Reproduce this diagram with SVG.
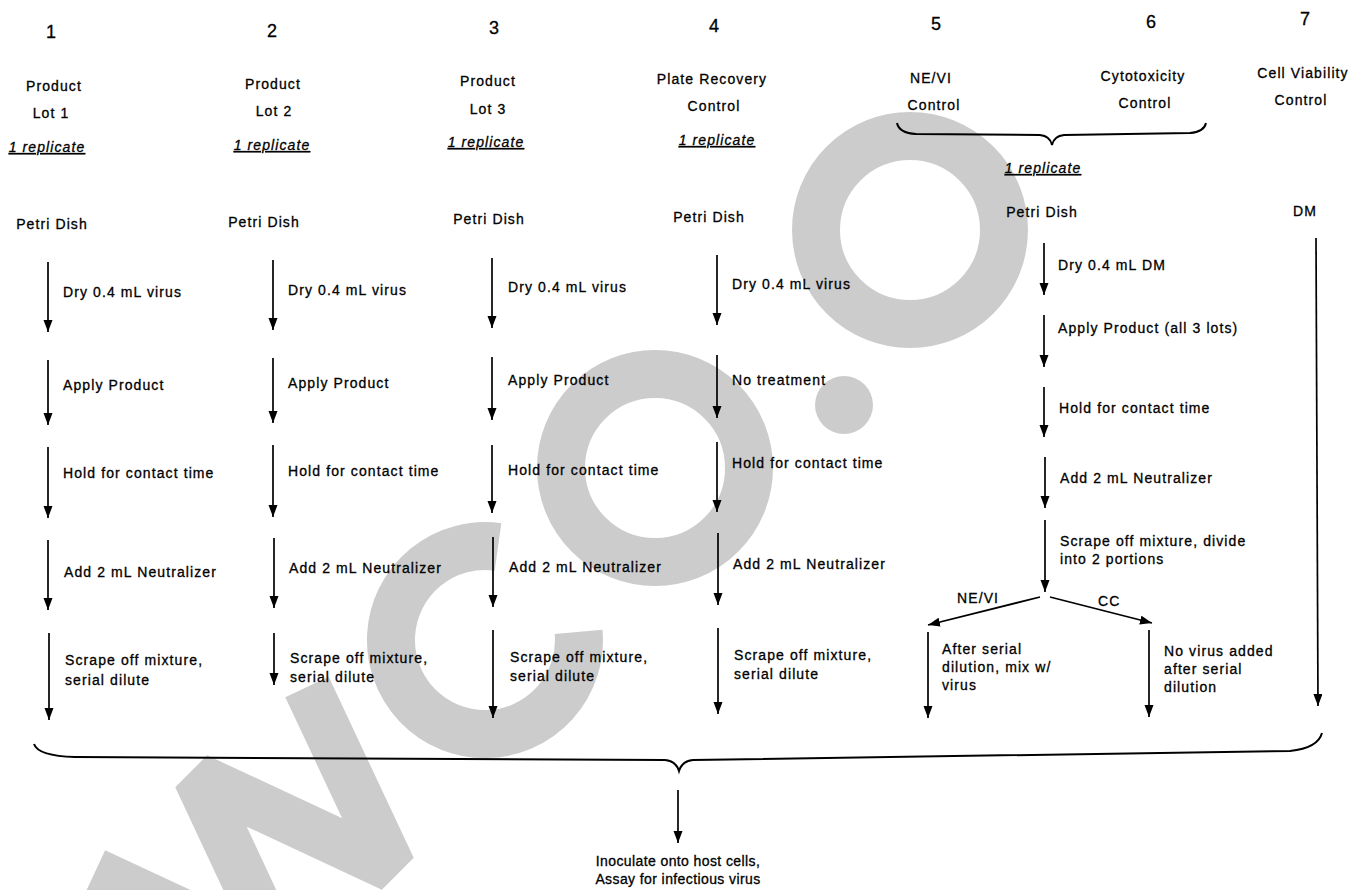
<svg xmlns="http://www.w3.org/2000/svg" width="1364" height="890" viewBox="0 0 1364 890">
<defs>
<marker id="ah" markerUnits="userSpaceOnUse" markerWidth="12" markerHeight="10" refX="12" refY="4.5" orient="auto">
<path d="M0,0 L12,4.5 L0,9 z" fill="#000"/>
</marker>
<style>
.t{font-family:"Liberation Sans",Arial,sans-serif;font-size:14px;letter-spacing:1.1px;fill:#000;stroke:#000;stroke-width:0.3px}
.m{text-anchor:middle}
.n{font-size:18px;letter-spacing:0}
.r{font-style:italic;text-decoration:underline}
.b{letter-spacing:0.4px;font-size:14px}
.c{stroke:#000;stroke-width:1.7;fill:none;marker-end:url(#ah)}
.br{stroke:#000;stroke-width:2;fill:none}
.wm{fill:none;stroke:#cccccc;stroke-width:48}
</style>
</defs>
<rect width="1364" height="890" fill="#fff"/>
<g id="watermark">
<polyline class="wm" points="95,872 282,959 197,777 392,868 307,687" stroke-linejoin="bevel"/>
<path class="wm" d="M578.6,631.8 A94,94 0 1 1 498,547"/>
<circle class="wm" cx="655" cy="468" r="94"/>
<circle cx="844" cy="405" r="29" fill="#cccccc"/>
<circle class="wm" cx="910" cy="230" r="94"/>
</g>
<g id="connectors">
<path class="c" d="M48,262 V332"/><path class="c" d="M48,360 V425"/><path class="c" d="M48,447 V518"/><path class="c" d="M48,540 V610"/><path class="c" d="M49,633 V720"/>
<path class="c" d="M273,260 V330"/><path class="c" d="M273,358 V423"/><path class="c" d="M273,445 V517"/><path class="c" d="M274,538 V608"/><path class="c" d="M274,633 V685"/>
<path class="c" d="M492,258 V328"/><path class="c" d="M492,357 V420"/><path class="c" d="M492,445 V513"/><path class="c" d="M493,537 V607"/><path class="c" d="M493,630 V718"/>
<path class="c" d="M717,255 V325"/><path class="c" d="M717,355 V418"/><path class="c" d="M717,442 V512"/><path class="c" d="M718,533 V605"/><path class="c" d="M718,628 V714"/>
<path class="c" d="M1044,243 V295"/><path class="c" d="M1044,315 V367"/><path class="c" d="M1044,387 V437"/><path class="c" d="M1045,457 V508"/><path class="c" d="M1045,520 V592"/>
<path class="c" d="M1040,597 L928,625"/><path class="c" d="M1050,597 L1152,623"/>
<path class="c" d="M928,632 V718"/><path class="c" d="M1149,630 V717"/>
<path class="c" d="M1316,238 L1318,706"/>
<path class="c" d="M678,790 V843"/>
<path class="br" d="M897,123 Q899,133 916,134 L1040,135 Q1050,136 1052,145 Q1054,136 1064,135 L1190,133 Q1204,132 1206,123"/>
<path class="br" d="M34,744 Q38,756 75,757 L665,760 Q676,761 679,771 Q682,761 693,760 L1290,751 Q1318,748 1322,733"/>
</g>
<g id="col1">
<text class="t n m" x="51" y="38">1</text>
<text class="t m" x="54" y="91">Product</text>
<text class="t m" x="51" y="118">Lot 1</text>
<text class="t m r" x="47" y="152">1 replicate</text>
<text class="t m" x="52" y="229">Petri Dish</text>
<text class="t" x="63" y="297">Dry 0.4 mL virus</text>
<text class="t" x="63" y="390">Apply Product</text>
<text class="t" x="63" y="478">Hold for contact time</text>
<text class="t" x="64" y="577">Add 2 mL Neutralizer</text>
<text class="t" x="65" y="665">Scrape off mixture,</text>
<text class="t" x="65" y="685">serial dilute</text>
</g>
<g id="col2">
<text class="t n m" x="272" y="37">2</text>
<text class="t m" x="273" y="89">Product</text>
<text class="t m" x="274" y="116">Lot 2</text>
<text class="t m r" x="272" y="150">1 replicate</text>
<text class="t m" x="264" y="227">Petri Dish</text>
<text class="t" x="288" y="295">Dry 0.4 mL virus</text>
<text class="t" x="288" y="388">Apply Product</text>
<text class="t" x="288" y="476">Hold for contact time</text>
<text class="t" x="289" y="573">Add 2 mL Neutralizer</text>
<text class="t" x="290" y="663">Scrape off mixture,</text>
<text class="t" x="290" y="682">serial dilute</text>
</g>
<g id="col3">
<text class="t n m" x="494" y="34">3</text>
<text class="t m" x="488" y="86">Product</text>
<text class="t m" x="488" y="114">Lot 3</text>
<text class="t m r" x="486" y="147">1 replicate</text>
<text class="t m" x="489" y="224">Petri Dish</text>
<text class="t" x="508" y="292">Dry 0.4 mL virus</text>
<text class="t" x="508" y="385">Apply Product</text>
<text class="t" x="508" y="475">Hold for contact time</text>
<text class="t" x="509" y="572">Add 2 mL Neutralizer</text>
<text class="t" x="510" y="662">Scrape off mixture,</text>
<text class="t" x="510" y="681">serial dilute</text>
</g>
<g id="col4">
<text class="t n m" x="714" y="32">4</text>
<text class="t m" x="712" y="84">Plate Recovery</text>
<text class="t m" x="714" y="111">Control</text>
<text class="t m r" x="717" y="145">1 replicate</text>
<text class="t m" x="709" y="222">Petri Dish</text>
<text class="t" x="732" y="289">Dry 0.4 mL virus</text>
<text class="t" x="732" y="385">No treatment</text>
<text class="t" x="732" y="468">Hold for contact time</text>
<text class="t" x="733" y="569">Add 2 mL Neutralizer</text>
<text class="t" x="734" y="660">Scrape off mixture,</text>
<text class="t" x="734" y="679">serial dilute</text>
</g>
<g id="col56">
<text class="t n m" x="936" y="30">5</text>
<text class="t m" x="931" y="83">NE/VI</text>
<text class="t m" x="934" y="110">Control</text>
<text class="t n m" x="1151" y="28">6</text>
<text class="t m" x="1143" y="81">Cytotoxicity</text>
<text class="t m" x="1145" y="108">Control</text>
<text class="t m r" x="1043" y="173">1 replicate</text>
<text class="t m" x="1042" y="217">Petri Dish</text>
<text class="t" x="1058" y="270">Dry 0.4 mL DM</text>
<text class="t" x="1058" y="333">Apply Product (all 3 lots)</text>
<text class="t" x="1059" y="413">Hold for contact time</text>
<text class="t" x="1060" y="483">Add 2 mL Neutralizer</text>
<text class="t" x="1060" y="546">Scrape off mixture, divide</text>
<text class="t" x="1060" y="564">into 2 portions</text>
<text class="t" x="957" y="603">NE/VI</text>
<text class="t" x="1098" y="606">CC</text>
<text class="t" x="942" y="654">After serial</text>
<text class="t" x="942" y="672">dilution, mix w/</text>
<text class="t" x="942" y="690">virus</text>
<text class="t" x="1164" y="656">No virus added</text>
<text class="t" x="1164" y="674">after serial</text>
<text class="t" x="1164" y="692">dilution</text>
</g>
<g id="col7">
<text class="t n m" x="1305" y="25">7</text>
<text class="t m" x="1303" y="78">Cell Viability</text>
<text class="t m" x="1301" y="105">Control</text>
<text class="t m" x="1305" y="216">DM</text>
</g>
<g id="final">
<text class="t b m" x="678" y="866">Inoculate onto host cells,</text>
<text class="t b m" x="678" y="884">Assay for infectious virus</text>
</g>
</svg>
